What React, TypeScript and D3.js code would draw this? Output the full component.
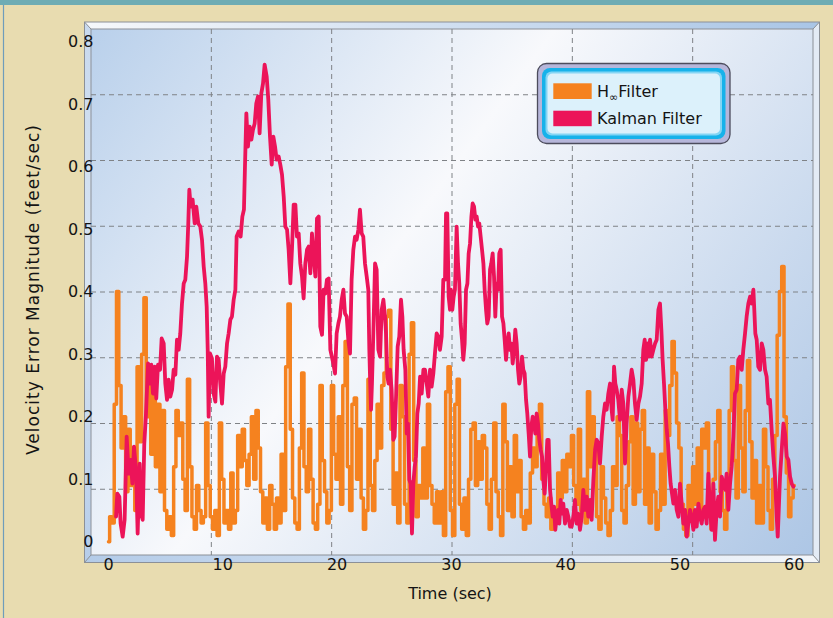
import * as d3 from "d3"

// time axis / value axis ticks
const xTicks = [0, 10, 20, 30, 40, 50, 60]
const yTicks = [0, 0.1, 0.2, 0.3, 0.4, 0.5, 0.6, 0.7, 0.8]
const yTickLabels = ["0", "0.1", "0.2", "0.3", "0.4", "0.5", "0.6", "0.7", "0.8"]

// H-infinity filter, one value every 0.2 s from t = 0 to 60
const hinfStep = 0.2
const hinfValues = [
  0.0, 0.04, 0.03, 0.22, 0.4, 0.25, 0.15, 0.2, 0.08, 0.18,
  0.09, 0.15, 0.05, 0.28, 0.16, 0.3, 0.39, 0.2, 0.26, 0.14,
  0.24, 0.12, 0.22, 0.08, 0.21, 0.05, 0.02, 0.04, 0.01, 0.12,
  0.21, 0.17, 0.19, 0.1, 0.05, 0.26, 0.12, 0.04, 0.02, 0.09,
  0.05, 0.03, 0.04, 0.19, 0.09, 0.04, 0.02, 0.05, 0.01, 0.19,
  0.1, 0.03, 0.05, 0.02, 0.11, 0.03, 0.05, 0.17, 0.12, 0.18,
  0.13, 0.09, 0.14, 0.2, 0.1, 0.21, 0.15, 0.08, 0.03, 0.07,
  0.02, 0.09, 0.06, 0.02, 0.07, 0.03, 0.14, 0.05, 0.28, 0.38,
  0.18, 0.07, 0.03, 0.02, 0.15, 0.27, 0.12, 0.08, 0.18, 0.1,
  0.03, 0.02, 0.06, 0.25, 0.13, 0.08, 0.03, 0.05, 0.25, 0.14,
  0.1,
  0.2, 0.06, 0.25, 0.32, 0.12, 0.05, 0.22, 0.23, 0.1, 0.18,
  0.07, 0.02, 0.05, 0.26, 0.09, 0.05, 0.13, 0.22, 0.15, 0.25,
  0.27, 0.36, 0.37, 0.18, 0.06, 0.11, 0.03, 0.25, 0.2, 0.06,
  0.03, 0.3, 0.35, 0.13, 0.04, 0.09, 0.07, 0.15, 0.07, 0.22,
  0.09, 0.06, 0.03, 0.08, 0.03, 0.08, 0.01, 0.24, 0.28, 0.05,
  0.01, 0.22, 0.26, 0.06, 0.02, 0.07, 0.01, 0.1, 0.18, 0.19,
  0.09, 0.16, 0.1, 0.17, 0.15, 0.06, 0.02, 0.1, 0.19, 0.08,
  0.04, 0.01, 0.22, 0.16, 0.05, 0.12, 0.04, 0.17, 0.08, 0.13,
  0.04, 0.02, 0.05, 0.03, 0.11, 0.15, 0.12, 0.19, 0.22, 0.1,
  0.06, 0.04, 0.07, 0.02, 0.05, 0.03, 0.11, 0.07, 0.13, 0.08,
  0.14, 0.12, 0.17, 0.09, 0.06,
  0.18, 0.05, 0.1, 0.03, 0.24, 0.12, 0.2, 0.15, 0.04, 0.02,
  0.12, 0.07, 0.03, 0.01, 0.05, 0.12, 0.09, 0.2, 0.17, 0.05,
  0.03, 0.09, 0.16, 0.2, 0.06, 0.19, 0.08, 0.18, 0.21, 0.06,
  0.15, 0.03, 0.14, 0.08, 0.02, 0.05, 0.14, 0.06, 0.21, 0.17,
  0.25, 0.32, 0.27, 0.19, 0.15, 0.06, 0.02, 0.01, 0.09, 0.04,
  0.12, 0.06, 0.15, 0.04, 0.18, 0.15, 0.19, 0.08, 0.02, 0.1,
  0.16, 0.21, 0.08, 0.05, 0.02, 0.1, 0.21, 0.28, 0.13, 0.07,
  0.25, 0.15, 0.08, 0.21, 0.29, 0.16, 0.07, 0.13, 0.03, 0.09,
  0.03, 0.18, 0.12, 0.05, 0.02, 0.1, 0.17, 0.33, 0.4, 0.44,
  0.2, 0.11, 0.04, 0.07, 0.09,
]

// Kalman filter, [time (sec), error]
const kalmanPoints: [number, number][] = [
  [0.66, 0.04], [0.77, 0.077], [0.95, 0.072], [1.06, 0.029], [1.24, 0.008], [1.41, 0.035],
  [1.59, 0.168], [1.76, 0.109], [1.94, 0.131], [2.09, 0.093], [2.23, 0.152], [2.41, 0.115],
  [2.55, 0.013], [2.73, 0.125], [2.84, 0.045], [2.99, 0.035], [3.13, 0.157], [3.28, 0.205],
  [3.46, 0.285], [3.6, 0.253], [3.75, 0.283], [3.89, 0.237], [4.04, 0.28], [4.18, 0.229],
  [4.33, 0.283], [4.51, 0.275], [4.65, 0.325], [4.83, 0.317], [4.97, 0.253], [5.12, 0.227],
  [5.26, 0.259], [5.41, 0.232], [5.56, 0.243], [5.7, 0.275], [5.85, 0.267], [5.99, 0.323],
  [6.14, 0.307], [6.28, 0.333], [6.43, 0.381], [6.58, 0.413], [6.72, 0.419], [6.87, 0.456],
  [6.98, 0.509], [7.07, 0.563], [7.19, 0.536], [7.36, 0.547], [7.54, 0.509], [7.68, 0.536],
  [7.86, 0.509], [8.03, 0.504], [8.18, 0.483], [8.33, 0.44], [8.47, 0.413], [8.59, 0.376],
  [8.68, 0.307], [8.76, 0.2], [8.88, 0.301], [9.05, 0.293], [9.2, 0.237], [9.35, 0.224],
  [9.49, 0.296], [9.64, 0.291], [9.78, 0.253], [9.93, 0.221], [10.08, 0.269], [10.22, 0.28],
  [10.37, 0.317], [10.51, 0.333], [10.66, 0.355], [10.8, 0.36], [10.95, 0.387], [11.1, 0.403],
  [11.21, 0.488], [11.39, 0.496], [11.56, 0.488], [11.71, 0.52], [11.85, 0.531], [11.94, 0.6],
  [12.06, 0.685], [12.2, 0.632], [12.35, 0.664], [12.5, 0.643], [12.64, 0.659], [12.79, 0.669],
  [12.93, 0.701], [13.08, 0.712], [13.22, 0.653], [13.37, 0.717], [13.52, 0.733], [13.66, 0.763],
  [13.84, 0.744], [13.98, 0.707], [14.13, 0.648], [14.28, 0.603], [14.42, 0.648], [14.57, 0.632],
  [14.71, 0.611], [14.89, 0.616], [15.03, 0.603], [15.18, 0.587], [15.33, 0.552], [15.47, 0.504],
  [15.62, 0.499], [15.76, 0.467], [15.91, 0.413], [16.05, 0.467], [16.2, 0.539], [16.35, 0.539],
  [16.49, 0.488], [16.64, 0.493], [16.78, 0.445], [16.93, 0.424], [17.07, 0.389], [17.22, 0.445],
  [17.37, 0.467], [17.51, 0.472], [17.66, 0.429], [17.8, 0.493], [17.95, 0.456], [18.1, 0.424],
  [18.24, 0.517], [18.39, 0.52], [18.53, 0.344], [18.68, 0.331], [18.82, 0.403], [18.97, 0.397],
  [19.11, 0.419], [19.26, 0.421], [19.41, 0.307], [19.67, 0.285], [19.82, 0.269], [19.96, 0.333],
  [20.11, 0.349], [20.25, 0.36], [20.4, 0.387], [20.55, 0.403], [20.69, 0.365], [20.84, 0.36],
  [20.98, 0.323], [21.13, 0.301], [21.27, 0.419], [21.42, 0.467], [21.57, 0.488], [21.71, 0.483],
  [21.86, 0.499], [22.0, 0.531], [22.15, 0.493], [22.29, 0.488], [22.44, 0.445], [22.59, 0.424],
  [22.73, 0.403], [22.82, 0.307], [22.88, 0.264], [22.97, 0.211], [23.05, 0.253], [23.17, 0.333],
  [23.32, 0.445], [23.46, 0.435], [23.61, 0.307], [23.76, 0.296], [23.9, 0.371], [24.05, 0.387],
  [24.19, 0.36], [24.28, 0.333], [24.4, 0.264], [24.5, 0.253], [24.63, 0.275], [24.77, 0.243],
  [24.92, 0.163], [25.03, 0.168], [25.15, 0.227], [25.3, 0.312], [25.44, 0.328], [25.59, 0.387],
  [25.71, 0.36], [25.82, 0.307], [25.97, 0.275], [26.09, 0.173], [26.2, 0.189], [26.32, 0.099],
  [26.44, 0.093], [26.55, 0.013], [26.67, 0.093], [26.79, 0.12], [26.9, 0.136], [27.02, 0.205],
  [27.14, 0.221], [27.26, 0.264], [27.4, 0.237], [27.55, 0.275], [27.69, 0.275], [27.84, 0.253],
  [27.98, 0.232], [28.13, 0.275], [28.27, 0.248], [28.42, 0.269], [28.56, 0.301], [28.71, 0.333],
  [28.86, 0.328], [29.0, 0.307], [29.15, 0.328], [29.29, 0.419], [29.44, 0.419], [29.53, 0.525],
  [29.64, 0.525], [29.76, 0.392], [29.88, 0.371], [29.96, 0.403], [30.08, 0.371], [30.2, 0.392],
  [30.31, 0.403], [30.46, 0.504], [30.58, 0.445], [30.69, 0.413], [30.81, 0.349], [30.93, 0.323],
  [31.04, 0.291], [31.16, 0.317], [31.28, 0.403], [31.4, 0.413], [31.51, 0.461], [31.63, 0.477],
  [31.75, 0.52], [31.86, 0.541], [31.98, 0.536], [32.1, 0.515], [32.21, 0.52], [32.33, 0.504],
  [32.44, 0.509], [32.56, 0.488], [32.68, 0.467], [32.8, 0.445], [32.91, 0.403], [33.03, 0.371],
  [33.14, 0.349], [33.26, 0.36], [33.38, 0.435], [33.49, 0.445], [33.61, 0.461], [33.73, 0.424],
  [33.84, 0.36], [33.96, 0.413], [34.08, 0.403], [34.19, 0.461], [34.31, 0.467], [34.43, 0.36],
  [34.55, 0.349], [34.66, 0.323], [34.78, 0.291], [34.9, 0.317], [35.01, 0.333], [35.13, 0.307],
  [35.25, 0.317], [35.36, 0.285], [35.48, 0.307], [35.59, 0.339], [35.71, 0.317], [35.83, 0.275],
  [35.94, 0.253], [36.06, 0.264], [36.18, 0.296], [36.29, 0.275], [36.41, 0.269], [36.53, 0.227],
  [36.64, 0.205], [36.76, 0.173], [36.88, 0.136], [36.99, 0.184], [37.11, 0.2], [37.23, 0.189],
  [37.34, 0.173], [37.46, 0.205], [37.58, 0.189], [37.69, 0.163], [37.81, 0.147], [37.93, 0.136],
  [38.04, 0.099], [38.16, 0.077], [38.28, 0.12], [38.39, 0.163], [38.51, 0.163], [38.63, 0.083],
  [38.74, 0.061], [38.86, 0.04], [38.98, 0.056], [39.09, 0.019], [39.21, 0.04], [39.33, 0.051],
  [39.44, 0.029], [39.56, 0.067], [39.68, 0.045], [39.79, 0.061], [39.94, 0.029], [40.09, 0.051],
  [40.23, 0.04], [40.38, 0.024], [40.52, 0.024], [40.67, 0.04], [40.81, 0.067], [40.96, 0.029],
  [41.1, 0.045], [41.25, 0.019], [41.4, 0.04], [41.54, 0.083], [41.69, 0.051], [41.84, 0.072],
  [41.98, 0.04], [42.13, 0.067], [42.27, 0.035], [42.42, 0.099], [42.57, 0.147], [42.71, 0.163],
  [42.86, 0.157], [43.0, 0.125], [43.15, 0.168], [43.29, 0.2], [43.44, 0.221], [43.58, 0.211],
  [43.73, 0.237], [43.88, 0.253], [44.02, 0.211], [44.11, 0.195], [44.23, 0.28], [44.34, 0.253],
  [44.46, 0.243], [44.6, 0.227], [44.75, 0.195], [44.9, 0.243], [45.04, 0.221], [45.19, 0.125],
  [45.33, 0.189], [45.48, 0.232], [45.63, 0.253], [45.77, 0.275], [45.92, 0.259], [46.06, 0.221],
  [46.21, 0.195], [46.36, 0.221], [46.5, 0.232], [46.65, 0.253], [46.79, 0.307], [46.91, 0.323],
  [47.03, 0.291], [47.14, 0.317], [47.26, 0.296], [47.38, 0.323], [47.52, 0.296], [47.67, 0.307],
  [47.82, 0.317], [47.96, 0.323], [48.11, 0.371], [48.25, 0.381], [48.37, 0.339], [48.48, 0.291],
  [48.6, 0.253], [48.72, 0.211], [48.84, 0.179], [48.95, 0.157], [49.07, 0.12], [49.18, 0.093],
  [49.3, 0.077], [49.42, 0.061], [49.56, 0.083], [49.71, 0.051], [49.86, 0.04], [50.0, 0.093],
  [50.15, 0.061], [50.29, 0.029], [50.44, 0.051], [50.59, 0.008], [50.73, 0.029], [50.88, 0.051],
  [51.02, 0.04], [51.17, 0.019], [51.31, 0.051], [51.46, 0.024], [51.61, 0.061], [51.75, 0.04],
  [51.9, 0.029], [52.04, 0.051], [52.19, 0.056], [52.33, 0.029], [52.48, 0.109], [52.63, 0.051],
  [52.77, 0.019], [52.92, 0.093], [53.06, 0.003], [53.21, 0.051], [53.35, 0.072], [53.5, 0.04],
  [53.65, 0.104], [53.79, 0.093], [53.94, 0.083], [54.08, 0.109], [54.23, 0.051], [54.38, 0.093],
  [54.52, 0.12], [54.67, 0.168], [54.81, 0.237], [54.96, 0.243], [55.1, 0.291], [55.25, 0.296],
  [55.4, 0.275], [55.54, 0.307], [55.69, 0.333], [55.83, 0.36], [55.98, 0.381], [56.13, 0.392],
  [56.27, 0.381], [56.42, 0.403], [56.5, 0.371], [56.59, 0.333], [56.71, 0.323], [56.85, 0.28],
  [57.0, 0.275], [57.15, 0.317], [57.29, 0.307], [57.44, 0.275], [57.58, 0.264], [57.73, 0.221],
  [57.87, 0.227], [58.02, 0.179], [58.17, 0.136], [58.31, 0.104], [58.46, 0.04], [58.55, 0.008],
  [58.64, 0.051], [58.75, 0.104], [58.9, 0.147], [59.05, 0.189], [59.19, 0.173], [59.34, 0.136],
  [59.48, 0.131], [59.63, 0.104], [59.77, 0.093], [59.92, 0.088],
]

const W = 833
const H = 618
const font = "'DejaVu Sans', Verdana, sans-serif"
const orange = "#f5821f"
const pink = "#ec1459"

// bevelled frame: outer edge and the inner panel
const outer = { x0: 84.5, y0: 22, x1: 819.5, y1: 562.5 }
const inner = { x0: 91, y0: 29, x1: 813, y1: 555 }

export default function App() {
  const x = d3.scaleLinear().domain([0, 60]).range([108.5, 794.3])
  const y = d3.scaleLinear().domain([0, 0.8]).range([541.7, 41.5])
  // the grid is spread over the whole inner panel
  const gx = d3.scaleLinear().domain([0, 60]).range([inner.x0, inner.x1])
  const gy = d3.scaleLinear().domain([0, 0.8]).range([inner.y1, inner.y0])

  // the H-inf trace is drawn as a staircase (sampled output)
  const hinfLine = d3
    .line<number>()
    .x((_, i) => x(i * hinfStep))
    .y((d) => y(d))
    .curve(d3.curveStep)
  const kalmanLine = d3
    .line<[number, number]>()
    .x((d) => x(d[0]))
    .y((d) => y(d[1]))

  const o = outer
  const n = inner

  return (
    <svg
      width={W}
      height={H}
      style={{ position: "absolute", left: 0, top: 0, display: "block" }}
    >
      <defs>
        <linearGradient id="panel" gradientUnits="userSpaceOnUse" x1={n.x0} y1={n.y0} x2={n.x1} y2={n.y1}>
          <stop offset="0" stopColor="#b9d0eb" />
          <stop offset="0.42" stopColor="#f8f9fc" />
          <stop offset="1" stopColor="#adc6e5" />
        </linearGradient>
        <linearGradient id="bevTop" x1="0" y1="0" x2="1" y2="0">
          <stop offset="0" stopColor="#f6f8fb" />
          <stop offset="1" stopColor="#a9c5e6" />
        </linearGradient>
        <linearGradient id="bevBottom" x1="0" y1="0" x2="1" y2="0">
          <stop offset="0" stopColor="#b3cbe8" />
          <stop offset="1" stopColor="#f3f6fa" />
        </linearGradient>
        <linearGradient id="bevLeft" x1="0" y1="0" x2="0" y2="1">
          <stop offset="0" stopColor="#c8d9ee" />
          <stop offset="0.5" stopColor="#d9e5f3" />
          <stop offset="1" stopColor="#b6cde9" />
        </linearGradient>
        <clipPath id="plotClip">
          <rect x={n.x0} y={n.y0} width={n.x1 - n.x0} height={n.y1 - n.y0} />
        </clipPath>
      </defs>

      {/* page */}
      <rect x={0} y={0} width={W} height={H} fill="#e8dcb0" />
      <rect x={0} y={0} width={W} height={5} fill="#6eacb4" />
      <line x1={3.5} y1={5} x2={3.5} y2={H} stroke="#6f9dbb" strokeWidth={1.2} />

      {/* frame */}
      <rect x={n.x0} y={n.y0} width={n.x1 - n.x0} height={n.y1 - n.y0} fill="url(#panel)" />
      <polygon points={`${o.x0},${o.y0} ${o.x1},${o.y0} ${n.x1},${n.y0} ${n.x0},${n.y0}`} fill="url(#bevTop)" />
      <polygon points={`${o.x0},${o.y1} ${n.x0},${n.y1} ${n.x1},${n.y1} ${o.x1},${o.y1}`} fill="url(#bevBottom)" />
      <polygon points={`${o.x0},${o.y0} ${n.x0},${n.y0} ${n.x0},${n.y1} ${o.x0},${o.y1}`} fill="url(#bevLeft)" />
      <polygon points={`${o.x1},${o.y0} ${o.x1},${o.y1} ${n.x1},${n.y1} ${n.x1},${n.y0}`} fill="#e3ebf5" />
      <g stroke="#8b9097" strokeWidth={1} fill="none">
        <rect x={o.x0} y={o.y0} width={o.x1 - o.x0} height={o.y1 - o.y0} />
        <rect x={n.x0} y={n.y0} width={n.x1 - n.x0} height={n.y1 - n.y0} />
        <line x1={o.x0} y1={o.y0} x2={n.x0} y2={n.y0} />
        <line x1={o.x1} y1={o.y0} x2={n.x1} y2={n.y0} />
        <line x1={o.x0} y1={o.y1} x2={n.x0} y2={n.y1} />
        <line x1={o.x1} y1={o.y1} x2={n.x1} y2={n.y1} />
      </g>

      {/* grid */}
      <g stroke="#7f8286" strokeWidth={1} strokeDasharray="5,4">
        {xTicks.slice(1, -1).map((t) => (
          <line key={"gx" + t} x1={gx(t)} x2={gx(t)} y1={n.y0} y2={n.y1} />
        ))}
        {yTicks.slice(1, -1).map((t) => (
          <line key={"gy" + t} x1={n.x0} x2={n.x1} y1={gy(t)} y2={gy(t)} />
        ))}
      </g>

      {/* series */}
      <g clipPath="url(#plotClip)" fill="none" strokeLinejoin="round" strokeLinecap="round">
        <path d={hinfLine(hinfValues) ?? ""} stroke={orange} strokeWidth={3.5} />
        <path d={kalmanLine(kalmanPoints) ?? ""} stroke={pink} strokeWidth={3.8} />
      </g>

      {/* axes text */}
      <g fontFamily={font} fontSize={16} fill="#141414">
        {yTicks.map((t, i) => (
          <text key={"yl" + t} x={93.5} y={y(t)} dy="0.36em" textAnchor="end">
            {yTickLabels[i]}
          </text>
        ))}
        {xTicks.map((t) => (
          <text key={"xl" + t} x={x(t)} y={570} textAnchor="middle">
            {t}
          </text>
        ))}
        <text x={450} y={599} textAnchor="middle">
          Time (sec)
        </text>
        <text
          transform="translate(39,290) rotate(-90)"
          textAnchor="middle"
          fontSize={17}
          textLength={330}
          lengthAdjust="spacing"
        >
          Velocity Error Magnitude (feet/sec)
        </text>
      </g>

      {/* legend */}
      <g>
        <rect x={537.5} y={63.5} width={192.5} height={80} rx={9} fill="#b6b6da" stroke="#4c4c5c" strokeWidth={1.3} />
        <rect x={542} y={68} width={183.5} height={71} rx={8} fill="#17b2ea" />
        <rect x={545.5} y={71.5} width={176.5} height={64} rx={6} fill="#84d5f4" />
        <rect x={547.5} y={73.5} width={172.5} height={60} rx={5} fill="#dcf1fb" />
        <rect x={553.3} y={83.3} width={38.4} height={15.7} fill={orange} />
        <rect x={553.3} y={110.7} width={38.4} height={15.5} fill={pink} />
        <g fontFamily={font} fontSize={16} fill="#141414">
          <text x={597} y={97}>
            H<tspan fontSize={11} dy={4}>∞</tspan>
            <tspan dy={-4}>Filter</tspan>
          </text>
          <text x={597} y={124}>
            Kalman Filter
          </text>
        </g>
      </g>
    </svg>
  )
}
